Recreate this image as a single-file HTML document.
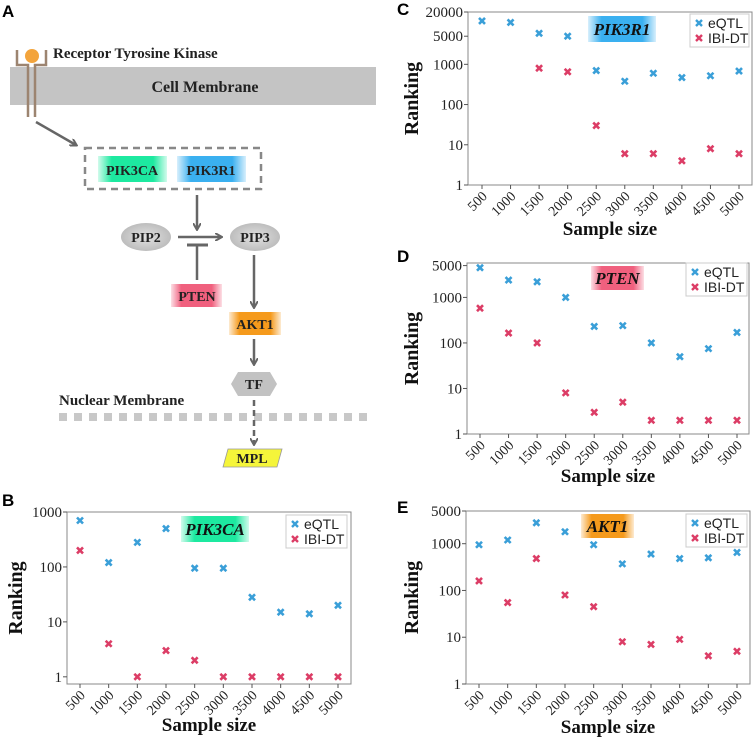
<!DOCTYPE html>
<html><head><meta charset="utf-8">
<style>
body{margin:0;background:#fff;}
svg{display:block;}
.ser{font-family:"Liberation Serif",serif;}
.san{font-family:"Liberation Sans",sans-serif;}
</style></head>
<body>
<svg id="fig" width="755" height="737" viewBox="0 0 755 737">
<defs>
<linearGradient id="gGreen" x1="0" x2="1"><stop offset="0" stop-color="#1de9a0" stop-opacity="0.2"/><stop offset="0.2" stop-color="#1de9a0"/><stop offset="0.8" stop-color="#1de9a0"/><stop offset="1" stop-color="#1de9a0" stop-opacity="0.2"/></linearGradient>
<linearGradient id="gBlue" x1="0" x2="1"><stop offset="0" stop-color="#3ab0f0" stop-opacity="0.2"/><stop offset="0.2" stop-color="#3ab0f0"/><stop offset="0.8" stop-color="#3ab0f0"/><stop offset="1" stop-color="#3ab0f0" stop-opacity="0.2"/></linearGradient>
<linearGradient id="gPink" x1="0" x2="1"><stop offset="0" stop-color="#f0607e" stop-opacity="0.2"/><stop offset="0.2" stop-color="#f0607e"/><stop offset="0.8" stop-color="#f0607e"/><stop offset="1" stop-color="#f0607e" stop-opacity="0.2"/></linearGradient>
<linearGradient id="gOrange" x1="0" x2="1"><stop offset="0" stop-color="#f59a1c" stop-opacity="0.2"/><stop offset="0.2" stop-color="#f59a1c"/><stop offset="0.8" stop-color="#f59a1c"/><stop offset="1" stop-color="#f59a1c" stop-opacity="0.2"/></linearGradient>
<radialGradient id="gGray"><stop offset="0" stop-color="#e2e2e2"/><stop offset="1" stop-color="#bdbdbd"/></radialGradient>
<marker id="ah" markerWidth="8" markerHeight="8" refX="6" refY="4" orient="auto" markerUnits="userSpaceOnUse"><path d="M0,0 L7,4 L0,8" fill="none" stroke="#666" stroke-width="2"/></marker>
</defs>

<g>
<text x="2" y="17" class="san" font-size="17" font-weight="bold">A</text>
<rect x="10" y="67" width="366" height="38" fill="#c4c4c4"/>
<text x="205" y="92" class="ser" font-size="16" font-weight="bold" text-anchor="middle" fill="#222">Cell Membrane</text>
<g stroke="#9c8470" stroke-width="2.5" fill="none">
<path d="M17,50 L17,65 L28,65 L28,117"/><path d="M46,50 L46,65 L35,65 L35,117"/>
</g>
<circle cx="32" cy="56" r="7" fill="#f3a43c"/>
<text x="53" y="58" class="ser" font-size="15" font-weight="bold" fill="#222">Receptor Tyrosine Kinase</text>
<line x1="36" y1="122" x2="76" y2="145" stroke="#666" stroke-width="2.5" marker-end="url(#ah)"/>
<rect x="85" y="148" width="176" height="41" fill="none" stroke="#888" stroke-width="2.5" stroke-dasharray="7,5"/>
<rect x="98" y="156" width="69" height="26" fill="url(#gGreen)"/>
<text x="132" y="175" class="ser" font-size="14" font-weight="bold" text-anchor="middle" fill="#222">PIK3CA</text>
<rect x="177" y="156" width="69" height="26" fill="url(#gBlue)"/>
<text x="211" y="175" class="ser" font-size="14" font-weight="bold" text-anchor="middle" fill="#222">PIK3R1</text>
<line x1="197" y1="195" x2="197" y2="229" stroke="#666" stroke-width="2.5" marker-end="url(#ah)"/>
<ellipse cx="146" cy="237" rx="25" ry="14" fill="url(#gGray)"/>
<text x="146" y="242" class="ser" font-size="14" font-weight="bold" text-anchor="middle" fill="#222">PIP2</text>
<ellipse cx="255" cy="237" rx="25" ry="14" fill="url(#gGray)"/>
<text x="255" y="242" class="ser" font-size="14" font-weight="bold" text-anchor="middle" fill="#222">PIP3</text>
<line x1="178" y1="237" x2="221" y2="237" stroke="#666" stroke-width="2.5" marker-end="url(#ah)"/>
<line x1="187" y1="245" x2="208" y2="245" stroke="#666" stroke-width="3"/>
<line x1="197" y1="245" x2="197" y2="280" stroke="#666" stroke-width="2.5"/>
<rect x="171" y="284" width="51" height="23" fill="url(#gPink)"/>
<text x="197" y="301" class="ser" font-size="14" font-weight="bold" text-anchor="middle" fill="#222">PTEN</text>
<line x1="254" y1="255" x2="254" y2="307" stroke="#666" stroke-width="2.5" marker-end="url(#ah)"/>
<rect x="229" y="312" width="52" height="23" fill="url(#gOrange)"/>
<text x="255" y="329" class="ser" font-size="14" font-weight="bold" text-anchor="middle" fill="#222">AKT1</text>
<line x1="254" y1="339" x2="254" y2="364" stroke="#666" stroke-width="2.5" marker-end="url(#ah)"/>
<polygon points="238,372 270,372 277,384 270,396 238,396 231,384" fill="#c2c2c2"/>
<text x="254" y="389" class="ser" font-size="14" font-weight="bold" text-anchor="middle" fill="#222">TF</text>
<text x="59" y="405" class="ser" font-size="15" font-weight="bold" fill="#222">Nuclear Membrane</text>
<line x1="59" y1="417" x2="372" y2="417" stroke="#c8c8c8" stroke-width="8" stroke-dasharray="8,7"/>
<line x1="254" y1="400" x2="254" y2="444" stroke="#666" stroke-width="2.5" stroke-dasharray="6,4" marker-end="url(#ah)"/>
<polygon points="228,449 282,449 277,467 223,467" fill="#f5f53a" stroke="#999" stroke-width="0.8"/>
<text x="252" y="463" class="ser" font-size="14" font-weight="bold" text-anchor="middle" fill="#222">MPL</text>
</g>
<g id="charts"></g>
</svg>
<script>
const categories = [500,1000,1500,2000,2500,3000,3500,4000,4500,5000];
const seriesNames = ["eQTL","IBI-DT"];
const bEqtl = [700,120,280,500,95,95,28,15,14,20];
const bIbi  = [200,4,1,3,2,1,1,1,1,1];
const cEqtl = [12000,11000,5900,5000,700,380,600,470,520,680];
const cIbi  = [null,null,800,650,30,6,6,4,8,6];
const dEqtl = [4500,2400,2200,1000,230,240,100,50,75,170];
const dIbi  = [580,165,100,8,3,5,2,2,2,2];
const eEqtl = [950,1200,2800,1800,950,370,600,480,500,650];
const eIbi  = [160,55,480,80,45,8,7,9,4,5];
const bTicks = [1,10,100,1000];
const cTicks = [1,10,100,1000,5000,20000];
const dTicks = [1,10,100,1000,5000];
const eTicks = [1,10,100,1000,5000];

const NS="http://www.w3.org/2000/svg";
const root=document.getElementById('charts');
function mk(tag,attrs,parent){const e=document.createElementNS(NS,tag);for(const k in attrs)e.setAttribute(k,attrs[k]);(parent||root).appendChild(e);return e;}

function chart(cfg){
  const g=mk('g',{});
  
  
  const {L,T,R,B,ymin,ymax,x0,x1}=cfg;
  const lmin=Math.log10(ymin),lmax=Math.log10(ymax);
  const ys=v=>B-(Math.log10(v)-lmin)/(lmax-lmin)*(B-T);
  const xs=i=>x0+(x1-x0)*i/(categories.length-1);
  const lbl=mk('text',{x:cfg.lx,y:cfg.ly,'font-size':17,'font-weight':'bold',class:'san'},g);
  lbl.textContent=cfg.letter;
  
  
  const box=mk('rect',{x:L,y:T,width:R-L,height:B-T,fill:'none',stroke:'#888','stroke-width':1},g);
  
  
  const tg=mk('rect',{x:cfg.tag[0],y:cfg.tag[1],width:cfg.tag[2],height:cfg.tag[3],fill:cfg.tagFill},g);
  
  
  const tt=mk('text',{x:cfg.tag[0]+cfg.tag[2]/2,y:cfg.tag[1]+cfg.tag[3]/2+6,'text-anchor':'middle','font-size':17,'font-weight':'bold','font-style':'italic',class:'ser',fill:'#111'},g);
  tt.textContent=cfg.gene;
  
  
  cfg.ticks.forEach(t=>{
    const y=ys(t);
    const tl=mk('line',{x1:L-4,x2:L,y1:y,y2:y,stroke:'#555'},g);
    
    
    const tx=mk('text',{x:L-5,y:y+5,'text-anchor':'end','font-size':15,class:'ser',fill:'#222'},g);
    tx.textContent=t;
    
    
  });
  categories.forEach((c,i)=>{
    const x=xs(i);
    const tl=mk('line',{x1:x,x2:x,y1:B,y2:B+4,stroke:'#555'},g);
    
    
    const ax=x+6, ay=B+12;
    const tx=mk('text',{x:ax,y:ay,'text-anchor':'end','font-size':14,class:'ser',fill:'#222',transform:`rotate(-45 ${ax} ${ay})`},g);
    tx.textContent=c;
    
    
  });
  const xt=mk('text',{x:(L+R)/2,y:cfg.xty,'text-anchor':'middle','font-size':19,'font-weight':'bold',class:'ser',fill:'#111'},g);
  xt.textContent='Sample size';
  
  
  const yc=(T+B)/2;
  const yt=mk('text',{x:cfg.ytx,y:yc,'text-anchor':'middle','font-size':20,'font-weight':'bold',class:'ser',fill:'#111',transform:`rotate(-90 ${cfg.ytx} ${yc})`},g);
  yt.textContent='Ranking';
  
  
  const colors=['#3a9fd8','#dc3d66'];
  [cfg.eq,cfg.ib].forEach((arr,s)=>{
    arr.forEach((v,i)=>{
      if(v==null)return;
      const x=xs(i),y=ys(v);
      const p=mk('path',{d:`M${x-3},${y-3}L${x+3},${y+3}M${x-3},${y+3}L${x+3},${y-3}`,stroke:colors[s],'stroke-width':2.6},g);
      
      
    });
  });
  const [lx,ly,lw,lh]=cfg.leg;
  const lr=mk('rect',{x:lx,y:ly,width:lw,height:lh,fill:'#fff',stroke:'#ccc'},g);
  
  
  seriesNames.forEach((n,s)=>{
    const yy=ly+9+s*15, xx=lx+9;
    const m=mk('path',{d:`M${xx-3},${yy-3}L${xx+3},${yy+3}M${xx-3},${yy+3}L${xx+3},${yy-3}`,stroke:colors[s],'stroke-width':2.4},g);
    
    
    const t=mk('text',{x:xx+9,y:yy+5,'font-size':14,class:'san',fill:'#222'},g);
    t.textContent=n;
    
    
  });
}
chart({id:'b',letter:'B',lx:2,ly:506,L:67,T:512,R:351,B:684,ymin:0.74,ymax:1000,x0:80,x1:338,ticks:bTicks,eq:bEqtl,ib:bIbi,gene:'PIK3CA',tagFill:'url(#gGreen)',tag:[181,516,68,26],leg:[286,515,61,33],xty:731,ytx:22});
chart({id:'c',letter:'C',lx:397,ly:15,L:468,T:12,R:752,B:185,ymin:1,ymax:20000,x0:482,x1:739,ticks:cTicks,eq:cEqtl,ib:cIbi,gene:'PIK3R1',tagFill:'url(#gBlue)',tag:[588,16,68,26],leg:[690,14,59,33],xty:235,ytx:418});
chart({id:'d',letter:'D',lx:397,ly:262,L:467,T:263,R:749,B:434,ymin:1,ymax:5700,x0:480,x1:737,ticks:dTicks,eq:dEqtl,ib:dIbi,gene:'PTEN',tagFill:'url(#gPink)',tag:[591,266,53,24],leg:[686,263,61,33],xty:482,ytx:418});
chart({id:'e',letter:'E',lx:397,ly:513,L:466,T:511,R:750,B:684,ymin:1,ymax:5000,x0:479,x1:737,ticks:eTicks,eq:eEqtl,ib:eIbi,gene:'AKT1',tagFill:'url(#gOrange)',tag:[581,514,53,24],leg:[686,514,61,33],xty:733,ytx:418});
</script>
</body></html>
